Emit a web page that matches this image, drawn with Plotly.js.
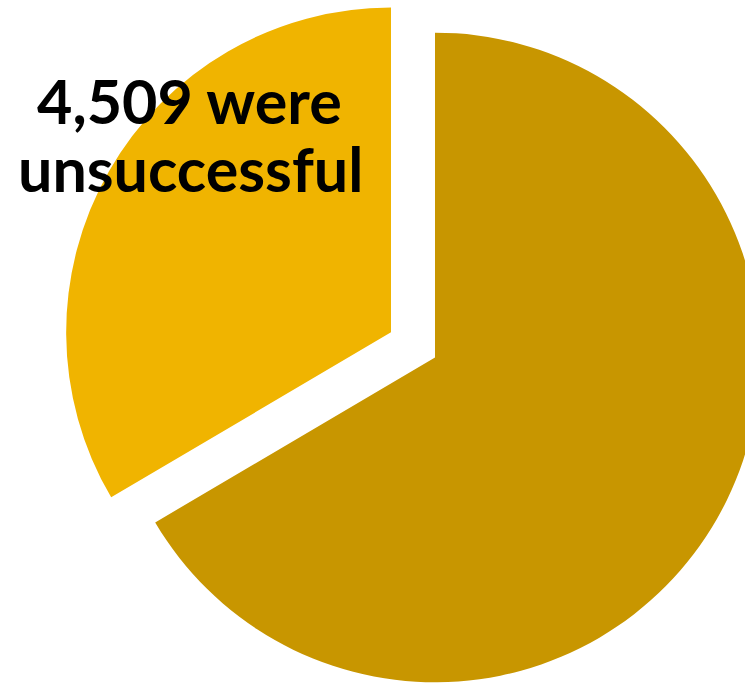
<!DOCTYPE html>
<html>
<head>
<meta charset="utf-8">
<script src="https://cdn.plot.ly/plotly-3.0.1.min.js"></script>
<style>
html,body{margin:0;padding:0;width:745px;height:683px;overflow:hidden;background:#fff;}
#chart{position:absolute;left:0px;top:-18px;}
</style>
</head>
<body>
<div id="chart"></div>
<script>
// Data
const categories = ["successful", "unsuccessful"];
const values = [8960, 4509];
const colors = ["#C89600", "#F0B400"];
const pulls = [0, 0.156];
const labelLine1 = values[1].toLocaleString("en-US") + " were";
const labelLine2 = categories[1];

const W = 870, H = 751, TOP = -18;
function px(x){ return x / W; }
function py(y){ return 1 - (y - TOP) / H; }

const trace = {
  type: "pie",
  labels: categories,
  values: values,
  sort: false,
  direction: "clockwise",
  rotation: 0,
  pull: pulls,
  marker: {colors: colors, line: {width: 0}},
  textinfo: "none",
  hoverinfo: "skip",
  showlegend: false,
  domain: {x: [0, 1], y: [0, 1]}
};

const font = {family: "Lato, 'Liberation Sans', sans-serif", size: 61, color: "#000000", weight: "bold"};

const layout = {
  width: W, height: H,
  margin: {l: 0, r: 0, t: 0, b: 0},
  paper_bgcolor: "#ffffff",
  showlegend: false,
  annotations: [
    {text: "<b>" + labelLine1 + "</b>", xref: "paper", yref: "paper", x: px(189), y: py(100),
     xanchor: "center", yanchor: "middle", showarrow: false, font: font},
    {text: "<b>" + labelLine2 + "</b>", xref: "paper", yref: "paper", x: px(190), y: py(169),
     xanchor: "center", yanchor: "middle", showarrow: false, font: font}
  ]
};

Plotly.newPlot("chart", [trace], layout, {displayModeBar: false, staticPlot: true});
</script>
</body>
</html>
